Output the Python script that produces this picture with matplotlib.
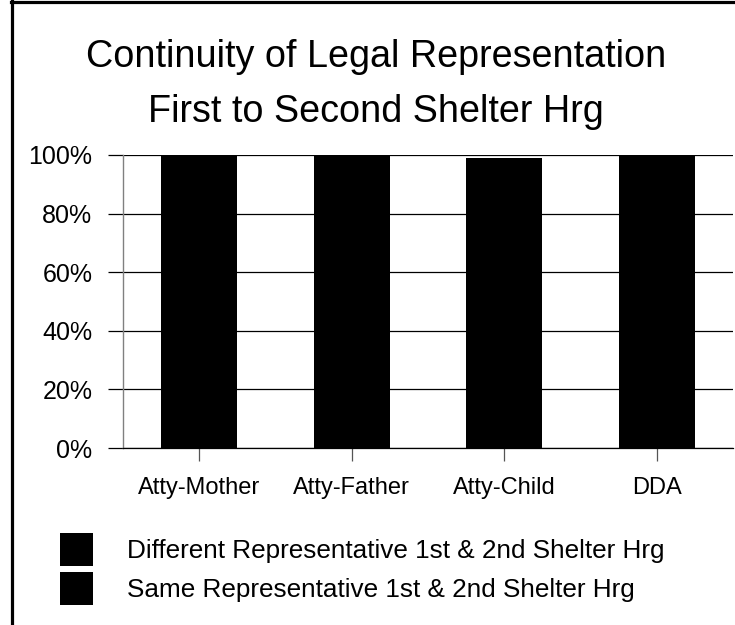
import matplotlib
matplotlib.use('Agg')
import matplotlib.pyplot as plt
from matplotlib.lines import Line2D
import numpy as np

plt.rcParams['font.family'] = ['Liberation Sans', 'DejaVu Sans']

categories = ['Atty-Mother', 'Atty-Father', 'Atty-Child', 'DDA']
same_rep = [100, 100, 99, 100]
different_rep = [0, 0, 0, 0]
y_ticks = [0, 20, 40, 60, 80, 100]
y_labels = ['0%', '20%', '40%', '60%', '80%', '100%']
title_lines = ['Continuity of Legal Representation', 'First to Second Shelter Hrg']
legend_labels = ['Different Representative 1st & 2nd Shelter Hrg',
                 'Same Representative 1st & 2nd Shelter Hrg']

W, H = 735, 625
fig = plt.figure(figsize=(W / 100, H / 100), dpi=100)
ax = fig.add_axes([123 / W, 1 - 448 / H, (733 - 123) / W, (448 - 155) / H])

x = np.arange(len(categories))
ax.grid(axis='y', color='black', linewidth=0.9, zorder=0)
ax.set_axisbelow(True)
b_same = ax.bar(x, same_rep, width=0.5, color='black', zorder=2)
b_diff = ax.bar(x, different_rep, width=0.5, bottom=same_rep, color='black', zorder=2)

ax.set_xlim(-0.5, len(categories) - 0.5)
ax.set_ylim(0, 100)
ax.set_yticks(y_ticks)
ax.set_yticklabels(y_labels, fontsize=18)
ax.set_xticks(x)
ax.set_xticklabels(categories, fontsize=17)
ax.tick_params(axis='y', length=11, width=0.9, color='black', pad=11)
ax.tick_params(axis='x', length=9.5, width=0.9, color='#555555', pad=11.5)

for side in ('top', 'right'):
    ax.spines[side].set_visible(False)
ax.spines['left'].set_color('#808080')
ax.spines['left'].set_linewidth(1.0)
ax.spines['bottom'].set_color('black')
ax.spines['bottom'].set_linewidth(0.9)

# two-line heading
fig.text(376 / W, 1 - 67 / H, title_lines[0], ha='center', va='baseline', fontsize=27.2)
fig.text(376 / W, 1 - 122 / H, title_lines[1], ha='center', va='baseline', fontsize=27.2)

# legend: square black swatches, 33 px each
fs = 18.8
px = fs * 100 / 72
hh = (33 / px - 0.245) / 0.65
fig.legend([b_diff, b_same], legend_labels, loc='upper left',
           bbox_to_anchor=(60 / W, 1 - 533 / H), bbox_transform=fig.transFigure,
           frameon=False, fontsize=fs, borderpad=0, borderaxespad=0,
           handlelength=33 / px, handleheight=hh,
           handletextpad=34 / px, labelspacing=0.23)

# border along top and left edge
fig.add_artist(Line2D([11 / W, 1], [1 - 1.5 / H, 1 - 1.5 / H], color='black', linewidth=2.3,
                      transform=fig.transFigure))
fig.add_artist(Line2D([11.5 / W, 11.5 / W], [0, 1], color='black', linewidth=2.3,
                      transform=fig.transFigure))

fig.savefig('out.png', dpi=100)
